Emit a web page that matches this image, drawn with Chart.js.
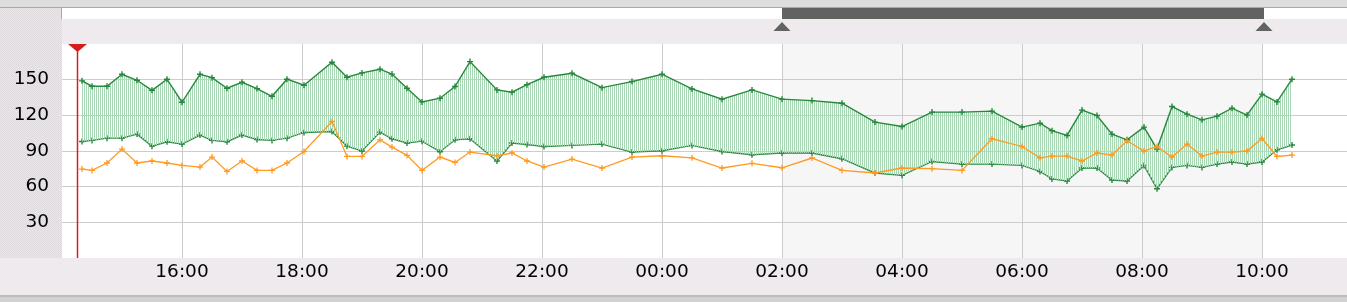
<!DOCTYPE html>
<html>
<head>
<meta charset="utf-8">
<script src="https://cdn.jsdelivr.net/npm/chart.js@4/dist/chart.umd.min.js"></script>
<style>
  html, body { margin: 0; padding: 0; background: #eeeaee; }
  canvas { display: block; }
</style>
</head>
<body>
<canvas id="myChart" width="1347" height="302"></canvas>
<script>
const times = ['14:20', '14:30', '14:45', '15:00', '15:15', '15:30', '15:45', '16:00', '16:18', '16:30', '16:45',
    '17:00', '17:15', '17:30', '17:45', '18:02', '18:30', '18:45', '19:00', '19:18', '19:30', '19:45',
    '20:00', '20:18', '20:33', '20:48', '21:15', '21:30', '21:45', '22:02', '22:30', '23:00', '23:30',
    '00:00', '00:30', '01:00', '01:30', '02:00', '02:30', '03:00', '03:33', '04:00', '04:30', '05:00', '05:30',
    '06:00', '06:18', '06:30', '06:45', '07:00', '07:15', '07:30', '07:45', '08:02', '08:15', '08:30', '08:45',
    '09:00', '09:15', '09:30', '09:45', '10:00', '10:15', '10:30'];

const upper = [149, 144.5, 144.5, 154.5, 149.5, 141, 150.4, 131, 154.5, 151.7, 142.8,
    147.8, 142.5, 136, 150.4, 145.3, 164.6, 152, 155.7, 158.8, 154.7, 142.8,
    131.3, 134.4, 144.2, 165.2, 141.4, 139.5, 145.8, 152, 155.4, 143.3, 148.4,
    154.6, 142.2, 133.6, 141.4, 133.6, 132.4, 130.2, 114.3, 110.6, 122.7, 122.7, 123.5,
    110.1, 113.4, 107.1, 103.1, 124.4, 119.8, 104.2, 99.4, 110.1, 91.6, 127.4, 121,
    116.2, 119.3, 126, 120.2, 137.8, 131.3, 150.4];

const lower = [98, 98.9, 100.8, 100.8, 104.2, 94.1, 97.8, 95.8, 103.4, 98.9, 97.8,
    103.4, 99.7, 98.9, 100.8, 105.6, 106.4, 94.1, 90, 105.9, 100.3, 96.7,
    98.3, 89.4, 99.4, 100.3, 81.6, 96.7, 95.5, 93.8, 94.7, 95.8, 89.1,
    90.2, 94.7, 89.6, 86.9, 88.3, 88.3, 83.5, 71.5, 69.5, 81.2, 79, 79,
    77.9, 72.8, 66.5, 64.8, 75.7, 75.7, 65.6, 64.8, 77.9, 58.3, 76.2, 77.9,
    76.2, 79, 80.7, 79, 80.7, 91, 95];

const orange = [74.8, 73.7, 79.9, 91.6, 79.9, 81.6, 79.9, 77.9, 76.5, 84.9, 72.8,
    81.6, 73.7, 73.7, 79.9, 89.6, 114.8, 85.4, 85.4, 99.4, 93.3, 86.3,
    73.7, 84.9, 80.4, 89.1, 86, 88.3, 81.6, 76.5, 83.2, 75.7, 84.9,
    86, 84.3, 75.7, 79.6, 75.9, 84.1, 73.7, 71.5, 75.7, 75.1, 73.7, 100.3,
    93.8, 84.3, 85.7, 85.7, 81.6, 88.3, 86.6, 98.6, 90, 93.8, 84.9, 95.8,
    85.7, 89.1, 89.1, 90, 100.5, 85.4, 86.6];

const xTickLabels = ['16:00', '18:00', '20:00', '22:00', '00:00', '02:00', '04:00', '06:00', '08:00', '10:00'];
const yTickValues = [30, 60, 90, 120, 150];
const markerTime = '14:15';
const rangeStart = '02:00';
const rangeEnd = '10:00';

// minutes since 14:00, wrapping past midnight
function toMinutes(t) {
    const [h, m] = t.split(':').map(Number);
    let v = (h - 14) * 60 + m;
    if (v < 0) v += 1440;
    return v;
}

function toLabel(v) {
    const total = (14 * 60 + v) % 1440;
    const h = Math.floor(total / 60);
    const m = Math.round(total % 60);
    return String(h).padStart(2, '0') + ':' + String(m).padStart(2, '0');
}

function makePattern(w, h, paint) {
    const c = document.createElement('canvas');
    c.width = w;
    c.height = h;
    paint(c.getContext('2d'));
    return c.getContext('2d').createPattern(c, 'repeat');
}

const stripes = makePattern(2, 1, p => {
    p.fillStyle = '#a9d6b4';
    p.fillRect(0, 0, 1, 1);
});

const dots = makePattern(2, 2, p => {
    p.fillStyle = '#e9e5e9';
    p.fillRect(0, 0, 2, 2);
    p.fillStyle = '#dfdbdf';
    p.fillRect(0, 0, 1, 1);
    p.fillRect(1, 1, 1, 1);
});

const font = { family: 'DejaVu Sans', size: 18.5 };
const markColor = '#1f3a25';

const frame = {
    id: 'frame',
    beforeDraw(chart) {
        const { ctx, chartArea: a, scales: { x } } = chart;
        const W = chart.width, H = chart.height;
        const x0 = x.getPixelForValue(toMinutes(rangeStart));
        const x1 = x.getPixelForValue(toMinutes(rangeEnd));
        ctx.save();
        ctx.fillStyle = '#eeeaee';
        ctx.fillRect(0, 0, W, H);
        ctx.fillStyle = '#dddddd';
        ctx.fillRect(0, 0, W, 7);
        ctx.fillStyle = '#a9a9a9';
        ctx.fillRect(0, 7, W, 1);
        ctx.fillStyle = dots;
        ctx.fillRect(0, 8, a.left, a.bottom - 8);
        ctx.fillStyle = '#ffffff';
        ctx.fillRect(a.left, 8, W - a.left, 11);
        ctx.fillStyle = '#a9a9a9';
        ctx.fillRect(a.left - 1, 8, 1, 11);
        ctx.fillStyle = '#616361';
        ctx.fillRect(x0, 8, x1 - x0 + 2, 11);
        [x0, x1 + 2].forEach(px => {
            ctx.beginPath();
            ctx.moveTo(px - 8.5, 31);
            ctx.lineTo(px + 8.5, 31);
            ctx.lineTo(px, 22);
            ctx.closePath();
            ctx.fill();
        });
        ctx.fillStyle = '#ffffff';
        ctx.fillRect(a.left, a.top, a.width, a.height);
        ctx.fillStyle = '#f6f6f6';
        ctx.fillRect(x0, a.top, x1 - x0, a.height);
        ctx.fillStyle = '#bdbdbd';
        ctx.fillRect(0, 295, W, 2);
        ctx.fillStyle = '#d2d2d2';
        ctx.fillRect(0, 297, W, H - 297);
        ctx.restore();
    },
    beforeDatasetsDraw(chart) {
        const { ctx, chartArea: a, scales: { x } } = chart;
        const px = Math.round(x.getPixelForValue(toMinutes(markerTime))) + 0.5;
        ctx.save();
        ctx.strokeStyle = '#d61d1d';
        ctx.lineWidth = 1.5;
        ctx.beginPath();
        ctx.moveTo(px, a.top);
        ctx.lineTo(px, a.bottom);
        ctx.stroke();
        ctx.fillStyle = '#d61d1d';
        ctx.beginPath();
        ctx.moveTo(px - 9.5, a.top);
        ctx.lineTo(px + 9.5, a.top);
        ctx.lineTo(px, a.top + 8);
        ctx.closePath();
        ctx.fill();
        ctx.restore();
    }
};

const toPoints = values => times.map((t, i) => ({ x: toMinutes(t), y: values[i] }));

const ctx = document.getElementById('myChart').getContext('2d');
new Chart(ctx, {
    type: 'line',
    data: {
        datasets: [{
            label: 'Orange',
            data: toPoints(orange),
            borderColor: '#ff9a22',
            borderWidth: 1.3,
            fill: false
        }, {
            label: 'Upper',
            data: toPoints(upper),
            borderColor: '#25883c',
            borderWidth: 1.4,
            backgroundColor: stripes,
            fill: '+1'
        }, {
            label: 'Lower',
            data: toPoints(lower),
            borderColor: '#25883c',
            borderWidth: 1.4,
            fill: false
        }]
    },
    options: {
        responsive: false,
        animation: false,
        layout: { autoPadding: false, padding: { top: 44, left: 0, right: 0, bottom: 0 } },
        elements: {
            line: { tension: 0 },
            point: {
                pointStyle: 'cross',
                radius: 3,
                borderWidth: 1.8,
                borderColor: markColor,
                backgroundColor: markColor
            }
        },
        scales: {
            x: {
                type: 'linear',
                min: 0,
                max: 1285,
                afterFit: scale => {
                    scale.height = 44;
                    scale.paddingLeft = 0;
                    scale.paddingRight = 0;
                },
                afterBuildTicks: scale => {
                    scale.ticks = xTickLabels.map(l => ({ value: toMinutes(l) }));
                },
                grid: { color: '#cccccc', drawTicks: false },
                border: { display: false },
                ticks: {
                    callback: v => toLabel(v),
                    font: font,
                    color: '#000000',
                    padding: 3,
                    maxRotation: 0,
                    autoSkip: false
                }
            },
            y: {
                min: 0,
                max: 180,
                afterFit: scale => { scale.width = 62; },
                afterBuildTicks: scale => {
                    scale.ticks = yTickValues.map(v => ({ value: v }));
                },
                grid: { color: '#cccccc', drawTicks: false },
                border: { display: false },
                ticks: {
                    font: font,
                    color: '#000000',
                    padding: 13
                }
            }
        },
        plugins: {
            legend: { display: false },
            tooltip: { enabled: false }
        }
    },
    plugins: [frame]
});
</script>
</body>
</html>
